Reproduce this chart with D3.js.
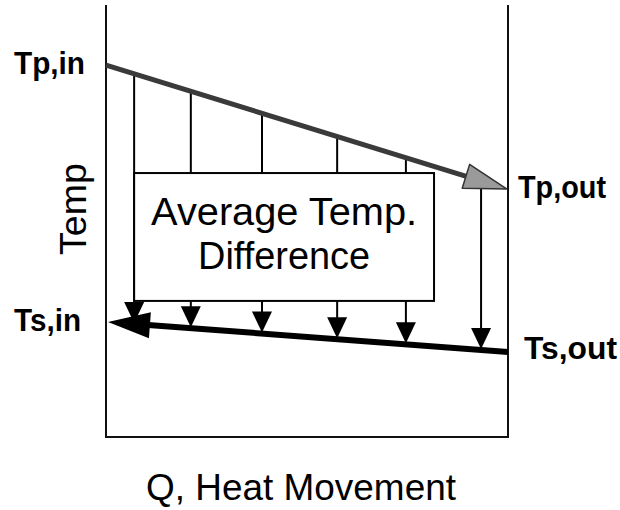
<!DOCTYPE html>
<html>
<head>
<meta charset="utf-8">
<script src="https://cdn.jsdelivr.net/npm/d3@7/dist/d3.min.js"></script>
<style>
  body { margin: 0; background: #fff; }
  text { font-family: "Liberation Sans", Arial, sans-serif; fill: #000; }
</style>
</head>
<body>
<svg id="chart" width="620" height="510"></svg>
<script>
// heat movement (Q) runs 0..100 across the frame, temperature 0..100 up the frame
var qDomain = [0, 100];
var tempDomain = [0, 100];
var hotQ = [0, 100];          // primary stream, flows left -> right
var hotTemps = [86.1, 57.4];  // Tp,in -> Tp,out
var coldQ = [0.5, 100];       // secondary stream, arrow points left
var coldTemps = [26.6, 19.7]; // Ts,in -> Ts,out
var diffArrowQ = [7, 21.1, 38.8, 57.5, 74.6, 93.3];
var avgBoxQ = [7, 81.6];
var avgBoxTemp = [31.5, 61.1];
var avgLines = ['Average Temp.', 'Difference'];
var endLabels = ['Tp,in', 'Tp,out', 'Ts,in', 'Ts,out'];

var svg = d3.select('#chart');

var x = d3.scaleLinear().domain(qDomain).range([106, 508]);
var y = d3.scaleLinear().domain(tempDomain).range([437, 5]);

var hotAt = d3.scaleLinear().domain(hotQ).range(hotTemps);
var coldAt = d3.scaleLinear().domain(coldQ).range(coldTemps);

// triangle with tip at (tx,ty) pointing away from (fx,fy)
function arrowHead(tx, ty, fx, fy, len, half) {
  var dx = tx - fx, dy = ty - fy;
  var d = Math.sqrt(dx * dx + dy * dy);
  var ux = dx / d, uy = dy / d;
  var bx = tx - ux * len, by = ty - uy * len;
  return [[tx, ty], [bx - uy * half, by + ux * half], [bx + uy * half, by - ux * half]];
}

// frame: left, bottom and right edges, open on top
svg.append('path')
  .attr('d', 'M' + x(0) + ',' + y(100) + 'V' + y(0) + 'H' + x(100) + 'V' + y(100))
  .attr('fill', 'none')
  .attr('stroke', '#111')
  .attr('stroke-width', 2);

// vertical difference lines
svg.selectAll('.diff-line')
  .data(diffArrowQ)
  .enter().append('line')
  .attr('class', 'diff-line')
  .attr('x1', function(d) { return x(d); })
  .attr('x2', function(d) { return x(d); })
  .attr('y1', function(d) { return y(hotAt(d)); })
  .attr('y2', function(d) { return y(coldAt(d)) - 8; })
  .attr('stroke', '#000')
  .attr('stroke-width', 2);

// average difference box
svg.append('rect')
  .attr('x', x(avgBoxQ[0]))
  .attr('y', y(avgBoxTemp[1]))
  .attr('width', x(avgBoxQ[1]) - x(avgBoxQ[0]))
  .attr('height', y(avgBoxTemp[0]) - y(avgBoxTemp[1]))
  .attr('fill', '#fff')
  .attr('stroke', '#000')
  .attr('stroke-width', 2);

var avgWidths = [266, 172];
svg.selectAll('.avg-text')
  .data(avgLines)
  .enter().append('text')
  .attr('class', 'avg-text')
  .attr('x', (x(avgBoxQ[0]) + x(avgBoxQ[1])) / 2)
  .attr('y', function(d, i) { return 225 + i * 44; })
  .attr('text-anchor', 'middle')
  .attr('font-size', 38)
  .attr('textLength', function(d, i) { return avgWidths[i]; })
  .attr('lengthAdjust', 'spacingAndGlyphs')
  .text(function(d) { return d; });

// cold stream line + arrowhead pointing left
var coldTip = [x(coldQ[0]), y(coldTemps[0])];
var coldEnd = [x(coldQ[1]), y(coldTemps[1])];
var coldHead = arrowHead(coldTip[0], coldTip[1], coldEnd[0], coldEnd[1], 42, 13);
svg.append('line')
  .attr('x1', coldEnd[0]).attr('y1', coldEnd[1])
  .attr('x2', coldTip[0] + 30).attr('y2', y(coldAt(coldQ[0] + x.invert(136) - x.invert(106))))
  .attr('stroke', '#000')
  .attr('stroke-width', 6);
svg.append('polygon')
  .attr('points', coldHead.join(' '))
  .attr('fill', '#000');

// heads on vertical difference arrows
svg.selectAll('.diff-head')
  .data(diffArrowQ)
  .enter().append('polygon')
  .attr('class', 'diff-head')
  .attr('points', function(d) {
    return arrowHead(x(d), y(coldAt(d)) - 1, x(d), 0, 21, 10).join(' ');
  })
  .attr('fill', '#000');

// hot stream line + grey arrowhead pointing right
var hotStart = [x(hotQ[0]), y(hotTemps[0])];
var hotTip = [x(hotQ[1]) - 1, y(hotTemps[1])];
var hotHead = arrowHead(hotTip[0], hotTip[1], hotStart[0], hotStart[1], 43, 12.5);
svg.append('line')
  .attr('x1', hotStart[0]).attr('y1', hotStart[1])
  .attr('x2', (hotHead[1][0] + hotHead[2][0]) / 2 + 2)
  .attr('y2', (hotHead[1][1] + hotHead[2][1]) / 2 + 0.6)
  .attr('stroke', '#3a3a3a')
  .attr('stroke-width', 5);
svg.append('polygon')
  .attr('points', hotHead.join(' '))
  .attr('fill', '#9a9a9a')
  .attr('stroke', '#333')
  .attr('stroke-width', 1.5)
  .attr('stroke-linejoin', 'round');

// end labels
var labelPos = [
  {x: 14, y: 74, w: 71},
  {x: 518, y: 198, w: 88},
  {x: 14, y: 331, w: 67},
  {x: 524, y: 359, w: 93}
];
svg.selectAll('.end-label')
  .data(endLabels)
  .enter().append('text')
  .attr('class', 'end-label')
  .attr('x', function(d, i) { return labelPos[i].x; })
  .attr('y', function(d, i) { return labelPos[i].y; })
  .attr('font-size', 31)
  .attr('font-weight', 'bold')
  .attr('textLength', function(d, i) { return labelPos[i].w; })
  .attr('lengthAdjust', 'spacingAndGlyphs')
  .text(function(d) { return d; });

// axis titles
svg.append('text')
  .attr('transform', 'translate(86,209) rotate(-90)')
  .attr('text-anchor', 'middle')
  .attr('font-size', 37)
  .attr('textLength', 92)
  .attr('lengthAdjust', 'spacingAndGlyphs')
  .text('Temp');

svg.append('text')
  .attr('x', 301)
  .attr('y', 500)
  .attr('text-anchor', 'middle')
  .attr('font-size', 37)
  .attr('textLength', 310)
  .attr('lengthAdjust', 'spacingAndGlyphs')
  .text('Q, Heat Movement');
</script>
</body>
</html>
